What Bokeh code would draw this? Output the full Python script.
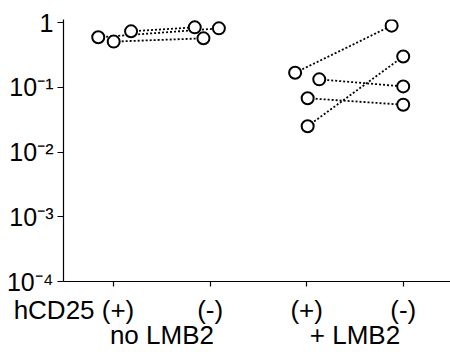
from bokeh.plotting import figure
from bokeh.models import FixedTicker, LinearAxis, Range1d
from bokeh.embed import file_html
from bokeh.resources import INLINE

NBSP = "\u00a0"
axis_title = "hCD25"
categories = ["(+)", "(-)", "(+)", "(-)"]
groups = ["no LMB2", "+ LMB2"]
y_ticks = [1e-4, 1e-3, 1e-2, 1e-1, 1]
y_tick_labels = ["10⁻⁴", "10⁻³", "10⁻²", "10⁻¹", "1"]

pair_x0 = [0.84, 1.18, 1.00, 2.88, 3.13, 3.01, 3.01]
pair_y0 = [0.594, 0.735, 0.51, 0.168, 0.133, 0.068, 0.0251]
pair_x1 = [2.09, 1.84, 1.93, 3.88, 4.00, 4.00, 4.00]
pair_y1 = [0.817, 0.847, 0.573, 0.90, 0.1035, 0.054, 0.30]

FONT = "Liberation Sans"

p = figure(width=450, height=352, y_axis_type="log",
           x_range=Range1d(0.48, 4.49), y_range=Range1d(1e-4, 1.12),
           output_backend="svg", toolbar_location=None,
           min_border_left=63, min_border_right=0, min_border_top=19,
           min_border_bottom=71)
p.grid.visible = False
p.outline_line_color = None

for a, b, c, d in zip(pair_x0, pair_y0, pair_x1, pair_y1):
    p.line([a, c], [b, d], line_color="black", line_width=1.8, line_dash="2 2")
p.scatter(pair_x0 + pair_x1, pair_y0 + pair_y1, size=12, fill_color="white",
          line_color="black", line_width=2)

ya = p.yaxis[0]
ya.ticker = FixedTicker(ticks=y_ticks, minor_ticks=[])
ya.major_label_overrides = {t: l for t, l in zip(y_ticks, y_tick_labels)}
ya.major_label_text_font = FONT
ya.major_label_text_font_size = "25px"
ya.major_label_text_color = "black"
ya.axis_line_width = 1.2
ya.major_tick_line_width = 1.2
ya.major_tick_out = 6
ya.major_tick_in = 0
ya.minor_tick_line_color = None
ya.major_label_standoff = 4

# first category label carries the axis title on its left; padded on the
# right with non-breaking spaces so that "(+)" sits on its tick
labels = list(categories)
labels[0] = axis_title + " " + categories[0] + NBSP * 11

xa = p.xaxis[0]
xa.ticker = FixedTicker(ticks=[1, 2, 3, 4], minor_ticks=[])
xa.major_label_overrides = {i + 1: c for i, c in enumerate(labels)}
xa.major_label_text_font = FONT
xa.major_label_text_font_size = "26px"
xa.major_label_text_color = "black"
xa.axis_line_width = 1.2
xa.major_tick_line_width = 1.2
xa.major_tick_out = 5
xa.major_tick_in = 0
xa.minor_tick_line_color = None
xa.major_label_standoff = 8

ga = LinearAxis(ticker=FixedTicker(ticks=[1.5, 3.5], minor_ticks=[]))
ga.major_label_overrides = {1.5: groups[0], 3.5: groups[1]}
ga.major_label_text_font = FONT
ga.major_label_text_font_size = "26px"
ga.major_label_text_color = "black"
ga.axis_line_color = None
ga.major_tick_line_color = None
ga.minor_tick_line_color = None
ga.major_tick_out = 0
ga.major_tick_in = 0
ga.major_label_standoff = -8
p.add_layout(ga, "below")

open("out.html", "w").write(file_html(p, INLINE))
